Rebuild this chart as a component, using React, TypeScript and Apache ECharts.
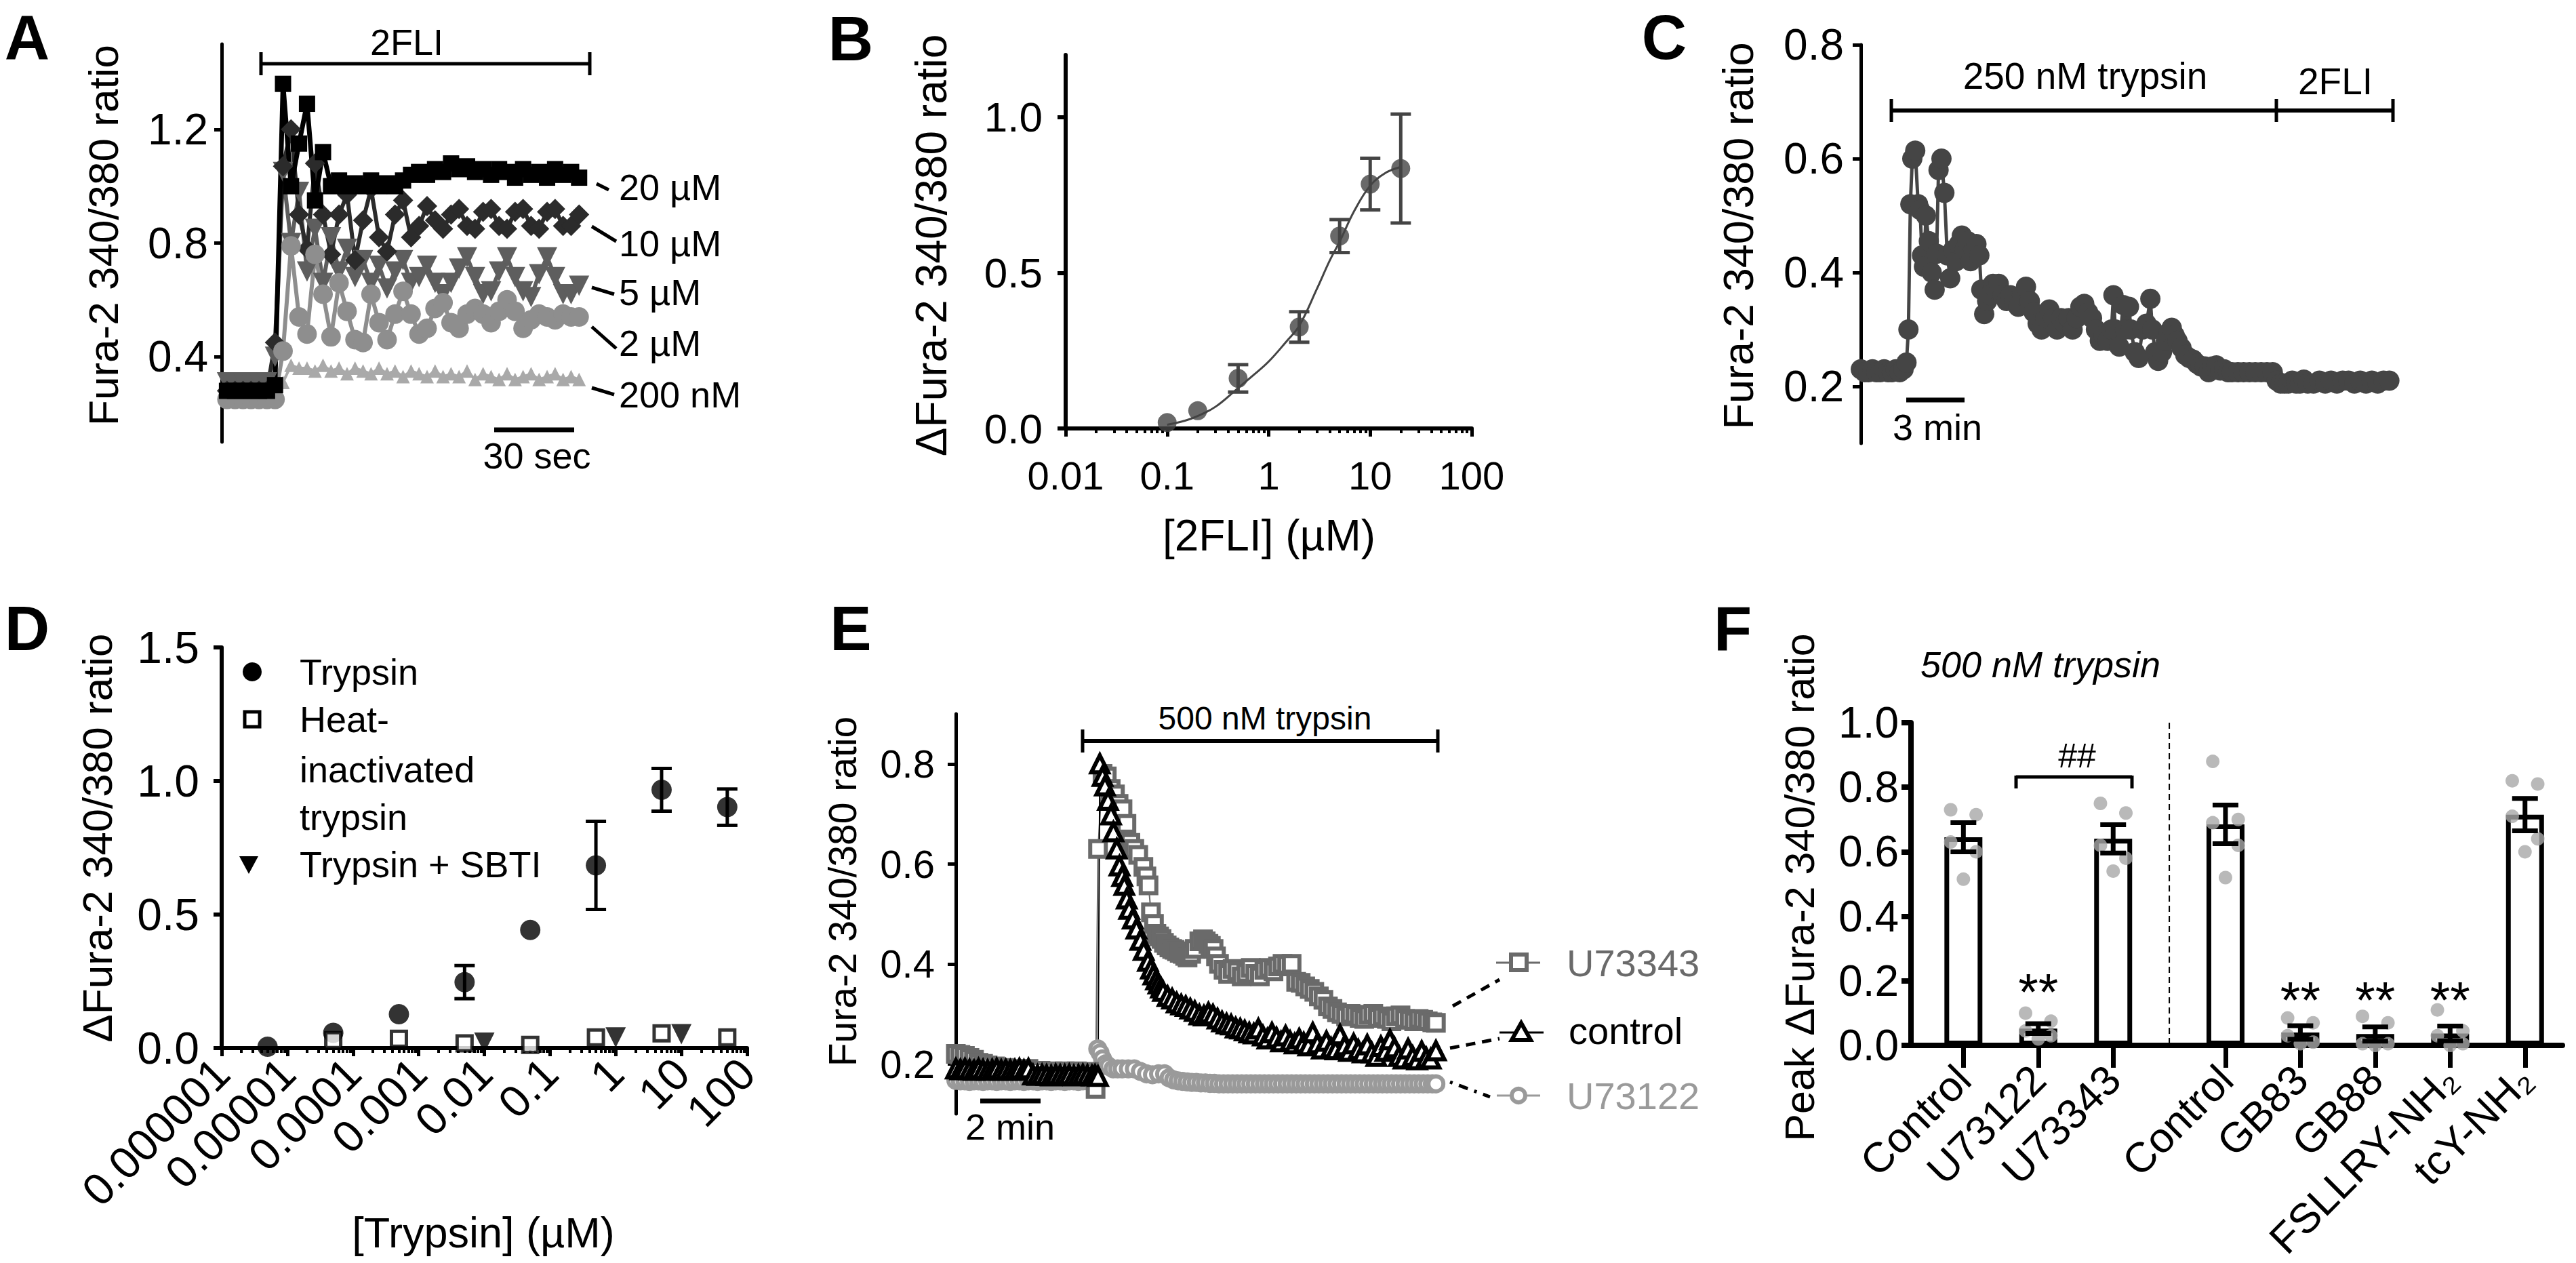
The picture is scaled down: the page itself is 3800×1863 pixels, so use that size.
import React, { useEffect, useRef } from 'react';
import * as echarts from 'echarts';

const FONT = '"Liberation Sans", Arial, Helvetica, sans-serif';
const W = 3800;
const H = 1863;

// ================= Panel A : 2FLI traces =================
const A_SAMPLE_SEC = 3;
const A_Y_TICKS = [0.4, 0.8, 1.2];
const A_CONC_LABELS = ['20 µM', '10 µM', '5 µM', '2 µM', '200 nM'];
const A_20uM = [0.28, 0.28, 0.28, 0.28, 0.28, 0.28, 0.30, 1.36, 1.00, 1.15, 1.29, 0.95, 1.12, 1.00, 1.02, 1.00, 1.01, 1.00, 1.02, 1.00, 1.01, 1.00, 1.02, 1.04, 1.05, 1.04, 1.06, 1.05, 1.08, 1.06, 1.07, 1.05, 1.06, 1.04, 1.06, 1.05, 1.03, 1.06, 1.04, 1.05, 1.03, 1.06, 1.04, 1.05, 1.03];
const A_10uM = [0.28, 0.28, 0.28, 0.28, 0.28, 0.28, 0.45, 1.07, 1.20, 0.90, 0.78, 1.08, 0.90, 0.76, 0.90, 0.97, 0.74, 0.88, 0.99, 0.82, 0.77, 0.90, 0.95, 0.82, 0.86, 0.93, 0.88, 0.85, 0.90, 0.92, 0.86, 0.85, 0.91, 0.92, 0.86, 0.85, 0.91, 0.92, 0.86, 0.85, 0.91, 0.92, 0.86, 0.86, 0.90];
const A_5uM = [0.31, 0.31, 0.31, 0.31, 0.31, 0.31, 0.40, 1.05, 0.80, 0.98, 0.70, 0.85, 0.66, 0.82, 0.70, 0.78, 0.68, 0.74, 0.66, 0.72, 0.64, 0.70, 0.74, 0.66, 0.68, 0.72, 0.66, 0.62, 0.66, 0.71, 0.75, 0.68, 0.62, 0.63, 0.70, 0.75, 0.68, 0.63, 0.61, 0.69, 0.75, 0.68, 0.62, 0.62, 0.65];
const A_2uM = [0.25, 0.25, 0.25, 0.25, 0.25, 0.25, 0.25, 0.42, 0.79, 0.54, 0.48, 0.76, 0.62, 0.47, 0.66, 0.56, 0.46, 0.45, 0.62, 0.52, 0.46, 0.55, 0.63, 0.55, 0.48, 0.50, 0.57, 0.59, 0.52, 0.50, 0.55, 0.57, 0.55, 0.52, 0.56, 0.60, 0.56, 0.50, 0.53, 0.55, 0.54, 0.53, 0.55, 0.54, 0.54];
const A_200nM = [0.30, 0.30, 0.30, 0.30, 0.30, 0.30, 0.30, 0.31, 0.37, 0.36, 0.36, 0.35, 0.37, 0.35, 0.36, 0.34, 0.36, 0.35, 0.34, 0.36, 0.34, 0.35, 0.33, 0.35, 0.34, 0.33, 0.35, 0.33, 0.34, 0.33, 0.35, 0.32, 0.34, 0.33, 0.32, 0.34, 0.32, 0.33, 0.34, 0.32, 0.33, 0.34, 0.32, 0.33, 0.32];

// ================= Panel B : 2FLI concentration-response =================
const B_CONC = [0.1, 0.2, 0.5, 2, 5, 10, 20];
const B_MEAN = [0.019, 0.057, 0.161, 0.326, 0.618, 0.785, 0.835];
const B_SEM = [0, 0, 0.044, 0.049, 0.053, 0.083, 0.175];
const B_FIT_X = [0.1, 0.15, 0.2, 0.3, 0.5, 0.7, 1, 1.5, 2, 3, 4, 5, 7, 10, 14, 20];
const B_FIT_Y = [0.012, 0.025, 0.04, 0.07, 0.13, 0.17, 0.215, 0.28, 0.33, 0.45, 0.54, 0.6, 0.7, 0.78, 0.82, 0.84];
const B_X_TICKS = [0.01, 0.1, 1, 10, 100];
const B_X_LABELS = ['0.01', '0.1', '1', '10', '100'];
const B_Y_TICKS = [0, 0.5, 1.0];

// ================= Panel C : trypsin then 2FLI trace =================
const C_Y_TICKS = [0.2, 0.4, 0.6, 0.8];
const C_TRACE = [
  [0.0, 0.23], [0.2, 0.225], [0.4, 0.225], [0.6, 0.23], [0.8, 0.225], [1.0, 0.225], [1.2, 0.23], [1.4, 0.225], [1.6, 0.225], [1.8, 0.23], [2.0, 0.225], [2.2, 0.23],
  [2.35, 0.242], [2.45, 0.30], [2.55, 0.52], [2.65, 0.60], [2.8, 0.614], [2.95, 0.52], [3.05, 0.51], [3.15, 0.43], [3.25, 0.41], [3.35, 0.50], [3.5, 0.455], [3.65, 0.40], [3.8, 0.37], [3.9, 0.433],
  [4.0, 0.58], [4.15, 0.60], [4.3, 0.54], [4.45, 0.43], [4.6, 0.39], [4.75, 0.44], [4.9, 0.42], [5.05, 0.45], [5.2, 0.465], [5.35, 0.44], [5.5, 0.455], [5.65, 0.42], [5.8, 0.44], [5.95, 0.45], [6.1, 0.43],
  [6.2, 0.37], [6.35, 0.327], [6.5, 0.35], [6.65, 0.36], [6.8, 0.38], [6.95, 0.37], [7.1, 0.38], [7.3, 0.36], [7.5, 0.35], [7.7, 0.36], [7.9, 0.35], [8.1, 0.34], [8.3, 0.36], [8.5, 0.375], [8.7, 0.35], [8.9, 0.33],
  [9.1, 0.31], [9.3, 0.30], [9.5, 0.32], [9.7, 0.335], [9.9, 0.32], [10.1, 0.30], [10.3, 0.32], [10.5, 0.31], [10.7, 0.32], [10.9, 0.30], [11.1, 0.32], [11.3, 0.34], [11.5, 0.345], [11.7, 0.33], [11.9, 0.32],
  [12.1, 0.30], [12.3, 0.28], [12.5, 0.29], [12.7, 0.28], [12.9, 0.30], [13.0, 0.36], [13.1, 0.30], [13.3, 0.27], [13.5, 0.343], [13.6, 0.30], [13.8, 0.34], [13.9, 0.30], [14.1, 0.26], [14.3, 0.25], [14.5, 0.30],
  [14.7, 0.31], [14.9, 0.354], [15.0, 0.30], [15.15, 0.26], [15.3, 0.245], [15.5, 0.26], [15.7, 0.28], [15.85, 0.295], [16.0, 0.303], [16.15, 0.29], [16.3, 0.28], [16.5, 0.268], [16.7, 0.255], [16.9, 0.25],
  [17.1, 0.247], [17.3, 0.24], [17.5, 0.235], [17.7, 0.235], [17.9, 0.225], [18.1, 0.235], [18.3, 0.237], [18.5, 0.228], [18.7, 0.23], [18.9, 0.225], [19.1, 0.225], [19.4, 0.225], [19.7, 0.225], [20.0, 0.225],
  [20.3, 0.225], [20.6, 0.225], [20.9, 0.225], [21.2, 0.225], [21.4, 0.21], [21.6, 0.205], [21.8, 0.205], [22.0, 0.205], [22.2, 0.21], [22.4, 0.205], [22.6, 0.205], [22.8, 0.212], [23.0, 0.205], [23.3, 0.205],
  [23.6, 0.21], [23.9, 0.205], [24.2, 0.21], [24.5, 0.205], [24.8, 0.21], [25.1, 0.21], [25.4, 0.205], [25.7, 0.21], [26.0, 0.205], [26.3, 0.21], [26.6, 0.205], [26.9, 0.21], [27.2, 0.21]
];

// ================= Panel D : trypsin concentration-response =================
const D_TRYP_X = [5e-6, 5e-5, 5e-4, 5e-3, 0.05, 0.5, 5, 50];
const D_TRYP_Y = [0.005, 0.057, 0.127, 0.247, 0.442, 0.684, 0.967, 0.902];
const D_TRYP_SEM = [0, 0, 0, 0.062, 0, 0.165, 0.08, 0.068];
const D_HEAT_X = [5e-5, 5e-4, 5e-3, 0.05, 0.5, 5, 50];
const D_HEAT_Y = [0.03, 0.035, 0.018, 0.012, 0.04, 0.055, 0.04];
const D_SBTI_X = [0.01, 1, 10];
const D_SBTI_Y = [0.02, 0.04, 0.052];
const D_X_TICKS = [1e-6, 1e-5, 1e-4, 1e-3, 1e-2, 1e-1, 1, 10, 100];
const D_X_LABELS = ['0.000001', '0.00001', '0.0001', '0.001', '0.01', '0.1', '1', '10', '100'];
const D_Y_TICKS = [0, 0.5, 1.0, 1.5];

// ================= Panel E : 500 nM trypsin with PLC inhibitors =================
const E_Y_TICKS = [0.2, 0.4, 0.6, 0.8];
const E_CONTROL = [
  [0, 0.19], [0.15, 0.188], [0.3, 0.19], [0.45, 0.188], [0.6, 0.187], [0.75, 0.19], [0.9, 0.188], [1.05, 0.187], [1.2, 0.188], [1.35, 0.19], [1.5, 0.187], [1.65, 0.188], [1.8, 0.187],
  [1.95, 0.188], [2.1, 0.19], [2.25, 0.187], [2.4, 0.19], [2.55, 0.178], [2.7, 0.177], [2.85, 0.178], [3.0, 0.177], [3.15, 0.176], [3.3, 0.178], [3.45, 0.177], [3.6, 0.177], [3.75, 0.178],
  [3.9, 0.176], [4.05, 0.177], [4.2, 0.178], [4.35, 0.177], [4.5, 0.176], [4.6, 0.177], [4.7, 0.175],
  [4.76, 0.80], [4.85, 0.775], [4.93, 0.756], [5.03, 0.727], [5.13, 0.698], [5.21, 0.664], [5.32, 0.63], [5.41, 0.596], [5.5, 0.575], [5.57, 0.557], [5.65, 0.53], [5.73, 0.509],
  [5.85, 0.49], [5.97, 0.47], [6.1, 0.447], [6.21, 0.427], [6.35, 0.405], [6.45, 0.39], [6.53, 0.378], [6.62, 0.368], [6.7, 0.36], [6.78, 0.352], [6.85, 0.345],
  [7.0, 0.335], [7.15, 0.33], [7.3, 0.322], [7.45, 0.318], [7.6, 0.315], [7.75, 0.31], [7.9, 0.305], [8.05, 0.298], [8.2, 0.296], [8.35, 0.302], [8.5, 0.298], [8.65, 0.29],
  [8.8, 0.284], [8.95, 0.28], [9.1, 0.278], [9.25, 0.272], [9.4, 0.27], [9.55, 0.266], [9.7, 0.262], [9.85, 0.26], [10.0, 0.27], [10.15, 0.256], [10.3, 0.25], [10.45, 0.262],
  [10.6, 0.252], [10.75, 0.244], [10.9, 0.256], [11.05, 0.245], [11.2, 0.24], [11.35, 0.25], [11.5, 0.242], [11.65, 0.236], [11.8, 0.262], [11.95, 0.24], [12.1, 0.23], [12.25, 0.245],
  [12.4, 0.232], [12.55, 0.228], [12.7, 0.258], [12.85, 0.236], [13.0, 0.225], [13.15, 0.24], [13.3, 0.228], [13.45, 0.222], [13.6, 0.238], [13.75, 0.222], [13.9, 0.215], [14.05, 0.235],
  [14.2, 0.225], [14.35, 0.248], [14.5, 0.232], [14.65, 0.215], [14.8, 0.21], [14.95, 0.23], [15.1, 0.215], [15.25, 0.208], [15.4, 0.225], [15.55, 0.212], [15.7, 0.21], [15.87, 0.226]
];
const E_U73343 = [
  [0, 0.22], [0.15, 0.218], [0.3, 0.216], [0.45, 0.212], [0.6, 0.208], [0.75, 0.202], [0.9, 0.2], [1.05, 0.197], [1.3, 0.195], [1.6, 0.192], [2.0, 0.19], [2.4, 0.19], [2.8, 0.186],
  [3.2, 0.185], [3.6, 0.185], [4.0, 0.185], [4.4, 0.184], [4.62, 0.15],
  [4.7, 0.63], [4.85, 0.78], [4.99, 0.775], [5.12, 0.75], [5.26, 0.739], [5.38, 0.72], [5.51, 0.709], [5.64, 0.68], [5.77, 0.642], [5.9, 0.63], [6.03, 0.618], [6.2, 0.594], [6.3, 0.575],
  [6.37, 0.557], [6.45, 0.503], [6.55, 0.48], [6.63, 0.46], [6.72, 0.455], [6.8, 0.45], [6.88, 0.442], [6.97, 0.437], [7.06, 0.433], [7.15, 0.43], [7.23, 0.428], [7.31, 0.425], [7.4, 0.422],
  [7.5, 0.42], [7.58, 0.416], [7.66, 0.413], [7.78, 0.42], [7.9, 0.43], [8.05, 0.445], [8.17, 0.449], [8.26, 0.445], [8.35, 0.44], [8.43, 0.436], [8.52, 0.43], [8.6, 0.415],
  [8.7, 0.40], [8.85, 0.388], [9.0, 0.38], [9.15, 0.39], [9.3, 0.385], [9.45, 0.375], [9.6, 0.382], [9.75, 0.392], [9.9, 0.38], [10.05, 0.375], [10.2, 0.388], [10.35, 0.392],
  [10.5, 0.385], [10.65, 0.395], [10.8, 0.40], [10.95, 0.398], [11.1, 0.40], [11.25, 0.364], [11.4, 0.362], [11.55, 0.355], [11.7, 0.35], [11.85, 0.344], [12.0, 0.335], [12.15, 0.328],
  [12.3, 0.315], [12.45, 0.31], [12.6, 0.303], [12.75, 0.3], [12.9, 0.295], [13.05, 0.3], [13.2, 0.298], [13.35, 0.292], [13.5, 0.29], [13.65, 0.298], [13.8, 0.3], [13.95, 0.292],
  [14.1, 0.295], [14.25, 0.29], [14.4, 0.285], [14.55, 0.295], [14.7, 0.297], [14.85, 0.29], [15.0, 0.288], [15.15, 0.285], [15.3, 0.29], [15.45, 0.288], [15.6, 0.285], [15.75, 0.283], [15.87, 0.282]
];
const E_U73122 = [
  [0, 0.167], [0.15, 0.166], [0.3, 0.166], [0.45, 0.165], [0.6, 0.166], [0.75, 0.166], [0.9, 0.165], [1.05, 0.166], [1.2, 0.166], [1.35, 0.165], [1.5, 0.166], [1.65, 0.166], [1.8, 0.165],
  [1.95, 0.166], [2.1, 0.166], [2.25, 0.165], [2.4, 0.166], [2.55, 0.166], [2.7, 0.165], [2.85, 0.166], [3.0, 0.166], [3.15, 0.165], [3.3, 0.166], [3.45, 0.166], [3.6, 0.165], [3.75, 0.166],
  [3.9, 0.166], [4.05, 0.165], [4.2, 0.166], [4.35, 0.166], [4.5, 0.166],
  [4.69, 0.23], [4.77, 0.222], [4.85, 0.21], [4.95, 0.2], [5.05, 0.195], [5.2, 0.19], [5.35, 0.19], [5.5, 0.19], [5.7, 0.19], [5.9, 0.19], [6.1, 0.185], [6.3, 0.18], [6.5, 0.178], [6.7, 0.18],
  [6.9, 0.18], [7.05, 0.172], [7.2, 0.168], [7.35, 0.166], [7.5, 0.165], [7.65, 0.164], [7.8, 0.163], [7.95, 0.163], [8.1, 0.162], [8.25, 0.162], [8.4, 0.161], [8.55, 0.161], [8.7, 0.16],
  [8.85, 0.16], [9.0, 0.16], [9.15, 0.16], [9.3, 0.16], [9.45, 0.16], [9.6, 0.16], [9.75, 0.16], [9.9, 0.16], [10.05, 0.16], [10.2, 0.16], [10.35, 0.16], [10.5, 0.16], [10.65, 0.16],
  [10.8, 0.16], [10.95, 0.16], [11.1, 0.16], [11.25, 0.16], [11.4, 0.16], [11.55, 0.16], [11.7, 0.16], [11.85, 0.16], [12.0, 0.16], [12.15, 0.16], [12.3, 0.16], [12.45, 0.16], [12.6, 0.16],
  [12.75, 0.16], [12.9, 0.16], [13.05, 0.16], [13.2, 0.16], [13.35, 0.16], [13.5, 0.16], [13.65, 0.16], [13.8, 0.16], [13.95, 0.16], [14.1, 0.16], [14.25, 0.16], [14.4, 0.16], [14.55, 0.16],
  [14.7, 0.16], [14.85, 0.16], [15.0, 0.16], [15.15, 0.16], [15.3, 0.16], [15.45, 0.16], [15.6, 0.16], [15.75, 0.16], [15.87, 0.16]
];

// ================= Panel F : peak responses =================
const F_NAMES = ['Control', 'U73122', 'U73343', 'Control', 'GB83', 'GB88', 'FSLLRY-NH₂', 'tcY-NH₂'];
const F_POS = [1, 2, 3, 4.5, 5.5, 6.5, 7.5, 8.5];
const F_MEAN = [0.645, 0.052, 0.64, 0.685, 0.04, 0.035, 0.037, 0.715];
const F_SEM = [0.045, 0.015, 0.044, 0.06, 0.021, 0.022, 0.023, 0.05];
const F_DOTS = [
  [0.73, 0.715, 0.63, 0.60, 0.515],
  [0.10, 0.075, 0.045, 0.03, 0.02],
  [0.75, 0.72, 0.62, 0.58, 0.54],
  [0.88, 0.70, 0.69, 0.62, 0.52],
  [0.085, 0.07, 0.03, 0.01, 0.005],
  [0.09, 0.07, 0.005, 0.005, 0.0],
  [0.11, 0.045, 0.03, 0.005, 0.0],
  [0.82, 0.81, 0.71, 0.64, 0.60]
];
const F_SIG = ['', '**', '', '', '**', '**', '**', ''];
const F_Y_TICKS = [0, 0.2, 0.4, 0.6, 0.8, 1.0];

// ---------------- layout (pixels) ----------------
const GA = { left: 327, top: 65, width: 543, height: 587 };
const GB = { left: 1572, top: 81, width: 599, height: 551 };
const GC = { left: 2745, top: 66, width: 794, height: 588 };
const GD = { left: 327, top: 955, width: 775, height: 591 };
const GE = { left: 1410, top: 1053, width: 714, height: 590 };
const GF = { left: 2819, top: 1066, width: 961, height: 476 };
const F_XMIN = 0.3;
const F_XMAX = 9.0;
const F_DOT_OFFSETS = [-0.17, 0.17, -0.17, 0.17, 0];

function logLabel(v: number, ticks: number[], labels: string[]) {
  let best = 0;
  let bd = Infinity;
  ticks.forEach((t, i) => {
    const d = Math.abs(Math.log10(v) - Math.log10(t));
    if (d < bd) { bd = d; best = i; }
  });
  return labels[best];
}

function minorTicks(lo: number, hi: number) {
  const out: number[] = [];
  for (let d = lo; d < hi; d++) {
    for (let k = 2; k <= 9; k++) out.push(k * Math.pow(10, d));
  }
  return out;
}

function errSeries(xi: number, yi: number, data: number[][], color: string, lw: number, cap: number, z: number) {
  return {
    type: 'custom',
    xAxisIndex: xi,
    yAxisIndex: yi,
    z,
    silent: true,
    data,
    encode: { x: 0, y: [1, 2] },
    renderItem: (params: any, api: any) => {
      const x = api.value(0);
      const a = api.coord([x, api.value(1)]);
      const b = api.coord([x, api.value(2)]);
      const st = { stroke: color, lineWidth: lw };
      return {
        type: 'group',
        children: [
          { type: 'line', shape: { x1: a[0], y1: a[1], x2: b[0], y2: b[1] }, style: st },
          { type: 'line', shape: { x1: a[0] - cap / 2, y1: a[1], x2: a[0] + cap / 2, y2: a[1] }, style: st },
          { type: 'line', shape: { x1: b[0] - cap / 2, y1: b[1], x2: b[0] + cap / 2, y2: b[1] }, style: st }
        ]
      };
    }
  };
}

function txt(x: number, y: number, text: string, size: number, o: any = {}) {
  const align = o.align || 'center';
  return {
    type: 'text', x, y, z: 50, rotation: o.rot || 0,
    style: {
      text, fontSize: size, fontFamily: FONT, fill: o.fill || '#000',
      fontWeight: o.bold ? 'bold' : 'normal', fontStyle: o.italic ? 'italic' : 'normal',
      align, verticalAlign: 'middle', textAlign: align, textVerticalAlign: 'middle'
    }
  };
}

function ln(x1: number, y1: number, x2: number, y2: number, w = 5, color = '#000', dash?: number[]) {
  return { type: 'line', z: 50, shape: { x1, y1, x2, y2 }, style: { stroke: color, lineWidth: w, lineDash: dash || null } };
}

const axisText = (size: number) => ({ fontSize: size, fontFamily: FONT, color: '#000' });

function yAxisDef(grid: number, min: number, max: number, ticks: number[], size: number, margin: number, lw: number, tlen: number) {
  return {
    gridIndex: grid, type: 'value', min, max,
    axisLine: { show: true, onZero: false, lineStyle: { color: '#000', width: lw } },
    axisTick: { show: true, customValues: ticks, length: tlen, lineStyle: { color: '#000', width: lw } },
    axisLabel: { show: true, customValues: ticks, margin, formatter: (v: number) => v.toFixed(1), ...axisText(size) },
    splitLine: { show: false }
  };
}

function buildOption() {
  const PI2 = Math.PI / 2;

  // ---------- series ----------
  const aStyles = [
    { data: A_200nM, color: '#a9a9a9', symbol: 'triangle', size: 20, rot: 0, lw: 4 },
    { data: A_5uM, color: '#5e5e5e', symbol: 'triangle', size: 30, rot: 180, lw: 6 },
    { data: A_10uM, color: '#2b2b2b', symbol: 'diamond', size: 30, rot: 0, lw: 6 },
    { data: A_2uM, color: '#8e8e8e', symbol: 'circle', size: 29, rot: 0, lw: 6 },
    { data: A_20uM, color: '#000000', symbol: 'rect', size: 24, rot: 0, lw: 7 }
  ];
  const series: any[] = aStyles.map((s) => ({
    type: 'line', xAxisIndex: 0, yAxisIndex: 0, silent: true,
    data: s.data.map((v, i) => [i * A_SAMPLE_SEC, v]),
    symbol: s.symbol, symbolSize: s.size, symbolRotate: s.rot, showAllSymbol: true,
    itemStyle: { color: s.color }, lineStyle: { color: s.color, width: s.lw }
  }));

  // B
  series.push({
    type: 'line', xAxisIndex: 1, yAxisIndex: 1, silent: true, smooth: 0.4, showSymbol: false,
    data: B_FIT_X.map((x, i) => [x, B_FIT_Y[i]]), lineStyle: { color: '#444', width: 3 }
  });
  series.push(errSeries(1, 1, B_CONC.map((x, i) => [x, B_MEAN[i] - B_SEM[i], B_MEAN[i] + B_SEM[i]]).filter((_, i) => B_SEM[i] > 0), '#444', 5, 30, 3));
  series.push({
    type: 'scatter', xAxisIndex: 1, yAxisIndex: 1, silent: true, z: 4,
    data: B_CONC.map((x, i) => [x, B_MEAN[i]]), symbol: 'circle', symbolSize: 28, itemStyle: { color: '#444' }
  });

  // C
  series.push({
    type: 'line', xAxisIndex: 3, yAxisIndex: 2, silent: true, data: C_TRACE,
    symbol: 'circle', symbolSize: 30, showAllSymbol: true,
    itemStyle: { color: '#454545' }, lineStyle: { color: '#454545', width: 5 }
  });

  // D
  series.push({
    type: 'scatter', xAxisIndex: 4, yAxisIndex: 3, silent: true, z: 3,
    data: D_TRYP_X.map((x, i) => [x, D_TRYP_Y[i]]), symbol: 'circle', symbolSize: 30, itemStyle: { color: '#000' }
  });
  series.push(errSeries(4, 3, D_TRYP_X.map((x, i) => [x, D_TRYP_Y[i] - D_TRYP_SEM[i], D_TRYP_Y[i] + D_TRYP_SEM[i]]).filter((_, i) => D_TRYP_SEM[i] > 0), '#000', 5, 30, 3));
  series.push({
    type: 'scatter', xAxisIndex: 4, yAxisIndex: 3, silent: true, z: 4,
    data: D_HEAT_X.map((x, i) => [x, D_HEAT_Y[i]]), symbol: 'rect', symbolSize: 22,
    itemStyle: { color: '#fff', borderColor: '#000', borderWidth: 5 }
  });
  series.push({
    type: 'scatter', xAxisIndex: 4, yAxisIndex: 3, silent: true, z: 5,
    data: D_SBTI_X.map((x, i) => [x, D_SBTI_Y[i]]), symbol: 'triangle', symbolRotate: 180, symbolSize: 30,
    itemStyle: { color: '#000' }
  });

  // E
  series.push({
    type: 'line', xAxisIndex: 6, yAxisIndex: 4, silent: true, data: E_U73122,
    symbol: 'circle', symbolSize: 22, showAllSymbol: true,
    itemStyle: { color: '#fff', borderColor: '#9a9a9a', borderWidth: 6 }, lineStyle: { color: '#9a9a9a', width: 2 }
  });
  series.push({
    type: 'line', xAxisIndex: 6, yAxisIndex: 4, silent: true, data: E_U73343,
    symbol: 'rect', symbolSize: 23, showAllSymbol: true,
    itemStyle: { color: '#fff', borderColor: '#6a6a6a', borderWidth: 6 }, lineStyle: { color: '#6a6a6a', width: 2 }
  });
  series.push({
    type: 'line', xAxisIndex: 6, yAxisIndex: 4, silent: true, data: E_CONTROL,
    symbol: 'triangle', symbolSize: 25, showAllSymbol: true,
    itemStyle: { color: '#fff', borderColor: '#000', borderWidth: 6 }, lineStyle: { color: '#000', width: 2 }
  });

  // F
  series.push({
    type: 'bar', xAxisIndex: 7, yAxisIndex: 5, silent: true, barWidth: 56, z: 2,
    data: F_POS.map((p, i) => [p, F_MEAN[i]]),
    itemStyle: { color: '#fff', borderColor: '#000', borderWidth: 7 }
  });
  const dots: number[][] = [];
  F_DOTS.forEach((arr, i) => arr.forEach((v, k) => dots.push([F_POS[i] + F_DOT_OFFSETS[k], v])));
  series.push({
    type: 'scatter', xAxisIndex: 7, yAxisIndex: 5, silent: true, z: 3,
    data: dots, symbol: 'circle', symbolSize: 20, itemStyle: { color: '#a8a8a8' }
  });
  series.push(errSeries(7, 5, F_POS.map((p, i) => [p, F_MEAN[i] - F_SEM[i], F_MEAN[i] + F_SEM[i]]), '#000', 7, 38, 4));

  // ---------- axes ----------
  const xAxis: any[] = [
    { gridIndex: 0, type: 'value', min: -2, max: 136, show: false },
    {
      gridIndex: 1, type: 'log', logBase: 10, min: 0.01, max: 100, position: 'bottom',
      axisLine: { show: true, onZero: false, lineStyle: { color: '#000', width: 6 } },
      axisTick: { show: true, customValues: B_X_TICKS, length: 12, lineStyle: { color: '#000', width: 5 } },
      axisLabel: { show: true, customValues: B_X_TICKS, margin: 40, formatter: (v: number) => logLabel(v, B_X_TICKS, B_X_LABELS), ...axisText(58) },
      splitLine: { show: false }, minorTick: { show: false }
    },
    {
      gridIndex: 1, type: 'log', logBase: 10, min: 0.01, max: 100, position: 'bottom',
      axisLine: { show: false, onZero: false }, axisLabel: { show: false },
      axisTick: { show: true, customValues: minorTicks(-2, 2), length: 7, lineStyle: { color: '#000', width: 4 } },
      splitLine: { show: false }
    },
    { gridIndex: 2, type: 'value', min: 0, max: 27.7, show: false },
    {
      gridIndex: 3, type: 'log', logBase: 10, min: 1e-6, max: 100, position: 'bottom',
      axisLine: { show: true, onZero: false, lineStyle: { color: '#000', width: 6 } },
      axisTick: { show: true, customValues: D_X_TICKS, length: 12, lineStyle: { color: '#000', width: 5 } },
      axisLabel: { show: true, customValues: D_X_TICKS, rotate: 45, margin: 26, formatter: (v: number) => logLabel(v, D_X_TICKS, D_X_LABELS), ...axisText(66) },
      splitLine: { show: false }, minorTick: { show: false }
    },
    {
      gridIndex: 3, type: 'log', logBase: 10, min: 1e-6, max: 100, position: 'bottom',
      axisLine: { show: false, onZero: false }, axisLabel: { show: false },
      axisTick: { show: true, customValues: minorTicks(-6, 2), length: 7, lineStyle: { color: '#000', width: 4 } },
      splitLine: { show: false }
    },
    { gridIndex: 4, type: 'value', min: 0, max: 16, show: false },
    {
      gridIndex: 5, type: 'value', min: F_XMIN, max: F_XMAX, position: 'bottom',
      axisLine: { show: true, onZero: false, lineStyle: { color: '#000', width: 8 } },
      axisTick: { show: true, customValues: F_POS, length: 33, lineStyle: { color: '#000', width: 7 } },
      axisLabel: {
        show: true, customValues: F_POS, rotate: 45, margin: 40,
        formatter: (v: number) => {
          let best = 0; let bd = Infinity;
          F_POS.forEach((p, i) => { const d = Math.abs(p - v); if (d < bd) { bd = d; best = i; } });
          return F_NAMES[best];
        },
        ...axisText(62)
      },
      splitLine: { show: false }
    }
  ];

  const yAxis: any[] = [
    yAxisDef(0, 0.1, 1.5, A_Y_TICKS, 64, 20, 5, 11),
    yAxisDef(1, 0, 1.2, B_Y_TICKS, 62, 34, 6, 12),
    yAxisDef(2, 0.1, 0.8, C_Y_TICKS, 64, 25, 5, 12),
    yAxisDef(3, 0, 1.5, D_Y_TICKS, 66, 33, 6, 12),
    yAxisDef(4, 0.1, 0.9, E_Y_TICKS, 58, 31, 5, 12),
    yAxisDef(5, 0, 1.0, F_Y_TICKS, 64, 18, 8, 14)
  ];

  const grid = [GA, GB, GC, GD, GE, GF].map((g) => ({ ...g, containLabel: false, outerBoundsMode: 'none' }));

  // ---------- graphic annotations ----------
  const fx = (p: number) => GF.left + ((p - F_XMIN) / (F_XMAX - F_XMIN)) * GF.width;
  const g: any[] = [];
  // panel letters
  g.push(txt(40, 55, 'A', 92, { bold: true }));
  g.push(txt(1255, 57, 'B', 92, { bold: true }));
  g.push(txt(2455, 55, 'C', 92, { bold: true }));
  g.push(txt(40, 927, 'D', 92, { bold: true }));
  g.push(txt(1255, 927, 'E', 92, { bold: true }));
  g.push(txt(2556, 927, 'F', 92, { bold: true }));
  // axis titles
  g.push(txt(152, 347, 'Fura-2 340/380 ratio', 62, { rot: PI2 }));
  g.push(txt(1374, 362, 'ΔFura-2 340/380 ratio', 64, { rot: PI2 }));
  g.push(txt(1872, 790, '[2FLI] (µM)', 64));
  g.push(txt(2564, 348, 'Fura-2 340/380 ratio', 63, { rot: PI2 }));
  g.push(txt(143, 1236, 'ΔFura-2 340/380 ratio', 62, { rot: PI2 }));
  g.push(txt(713, 1818, '[Trypsin] (µM)', 63));
  g.push(txt(1243, 1315, 'Fura-2 340/380 ratio', 57, { rot: PI2 }));
  g.push(txt(2655, 1309, 'Peak ΔFura-2 340/380 ratio', 61, { rot: PI2 }));

  // Panel A annotations
  g.push(ln(385, 94, 870, 94, 5), ln(385, 77, 385, 111, 5), ln(870, 77, 870, 111, 5));
  g.push(txt(600, 62, '2FLI', 54));
  g.push(ln(729, 634, 847, 634, 7));
  g.push(txt(792, 672, '30 sec', 54));
  const aLabelY = [276, 359, 431, 506, 582];
  A_CONC_LABELS.forEach((t, i) => g.push(txt(913, aLabelY[i], t, 54, { align: 'left' })));
  g.push(ln(880, 271, 898, 280, 5), ln(873, 334, 909, 356, 5), ln(873, 424, 906, 434, 5), ln(873, 482, 909, 514, 5), ln(873, 572, 906, 582, 5));

  // Panel C annotations
  g.push(ln(2790, 163, 3530, 163, 6), ln(2790, 146, 2790, 180, 5), ln(3358, 146, 3358, 180, 5), ln(3530, 146, 3530, 180, 5));
  g.push(txt(3076, 112, '250 nM trypsin', 55));
  g.push(txt(3445, 120, '2FLI', 55));
  g.push(ln(2812, 590, 2898, 590, 7));
  g.push(txt(2858, 630, '3 min', 54));

  // Panel D legend
  g.push({ type: 'circle', z: 50, shape: { cx: 372, cy: 991, r: 14 }, style: { fill: '#000' } });
  g.push({ type: 'rect', z: 50, shape: { x: 361, y: 1050, width: 22, height: 22 }, style: { fill: '#fff', stroke: '#000', lineWidth: 5 } });
  g.push({ type: 'polygon', z: 50, shape: { points: [[353, 1263], [381, 1263], [367, 1289]] }, style: { fill: '#000' } });
  g.push(txt(442, 991, 'Trypsin', 54, { align: 'left' }));
  g.push(txt(442, 1061, 'Heat-', 54, { align: 'left' }));
  g.push(txt(442, 1135, 'inactivated', 54, { align: 'left' }));
  g.push(txt(442, 1205, 'trypsin', 54, { align: 'left' }));
  g.push(txt(442, 1275, 'Trypsin + SBTI', 54, { align: 'left' }));

  // Panel E annotations
  g.push(ln(1597, 1093, 2121, 1093, 6), ln(1597, 1076, 1597, 1110, 5), ln(2121, 1076, 2121, 1110, 5));
  g.push(txt(1866, 1059, '500 nM trypsin', 48));
  g.push(ln(1446, 1624, 1535, 1624, 7));
  g.push(txt(1490, 1662, '2 min', 54));
  g.push(ln(2207, 1420, 2272, 1420, 3, '#6a6a6a'));
  g.push({ type: 'rect', z: 51, shape: { x: 2229, y: 1408, width: 23, height: 23 }, style: { fill: '#fff', stroke: '#6a6a6a', lineWidth: 6 } });
  g.push(txt(2311, 1420, 'U73343', 56, { align: 'left', fill: '#6a6a6a' }));
  g.push(ln(2212, 1523, 2277, 1523, 3, '#000'));
  g.push({ type: 'polygon', z: 51, shape: { points: [[2244, 1509], [2258, 1534], [2230, 1534]] }, style: { fill: '#fff', stroke: '#000', lineWidth: 6 } });
  g.push(txt(2314, 1520, 'control', 56, { align: 'left' }));
  g.push(ln(2208, 1616, 2272, 1616, 3, '#9a9a9a'));
  g.push({ type: 'circle', z: 51, shape: { cx: 2240, cy: 1616, r: 10 }, style: { fill: '#fff', stroke: '#9a9a9a', lineWidth: 6 } });
  g.push(txt(2311, 1616, 'U73122', 56, { align: 'left', fill: '#9a9a9a' }));
  g.push(ln(2143, 1484, 2212, 1445, 5, '#000', [14, 10]));
  g.push(ln(2139, 1546, 2212, 1532, 5, '#000', [14, 10]));
  g.push(ln(2139, 1596, 2198, 1618, 5, '#000', [4, 10, 14, 10]));

  // Panel F annotations
  g.push(txt(3010, 980, '500 nM trypsin', 54, { italic: true }));
  g.push(txt(3064, 1115, '##', 50));
  g.push(ln(2974, 1146, 3145, 1146, 5), ln(2974, 1144, 2974, 1163, 5), ln(3145, 1144, 3145, 1163, 5));
  F_SIG.forEach((s, i) => {
    if (s) g.push(txt(fx(F_POS[i]), i === 1 ? 1462 : 1474, s, 76));
  });
  const sepX = fx((F_POS[2] + F_POS[3]) / 2);
  g.push(ln(sepX, GF.top, sepX, GF.top + GF.height, 2, '#000', [9, 6]));

  return {
    animation: false,
    backgroundColor: '#ffffff',
    textStyle: { fontFamily: FONT },
    grid,
    xAxis,
    yAxis,
    series,
    graphic: { elements: g }
  };
}

export default function App() {
  const ref = useRef<HTMLDivElement>(null);
  useEffect(() => {
    document.body.style.margin = '0';
    if (!ref.current) return;
    const chart = echarts.init(ref.current, null, { renderer: 'svg', width: W, height: H });
    chart.setOption(buildOption() as any);
    return () => chart.dispose();
  }, []);
  return <div ref={ref} style={{ position: 'absolute', left: 0, top: 0, width: W, height: H, background: '#fff' }} />;
}
